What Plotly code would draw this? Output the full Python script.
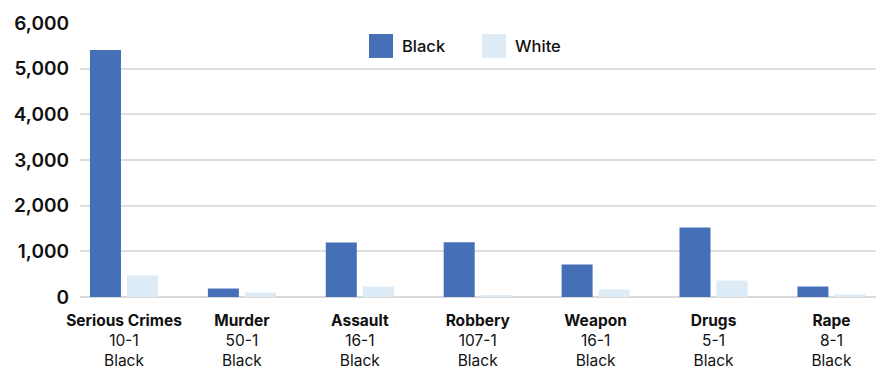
import plotly.graph_objects as go

# Arrests by offense, per 100,000 people, with Black-to-White ratio
offenses = ["Serious Crimes", "Murder", "Assault", "Robbery", "Weapon", "Drugs", "Rape"]
ratios = ["10-1", "50-1", "16-1", "107-1", "16-1", "5-1", "8-1"]
black_rates = [5410, 186, 1195, 1200, 710, 1520, 230]
white_rates = [470, 98, 230, 40, 165, 360, 55]

y_ticks = [0, 1000, 2000, 3000, 4000, 5000, 6000]

BLUE = "#4570B8"
PALE = "#DDEBF6"
FONT = "Inter"

x_labels = [f"<b>{o}</b><br>{r}<br>Black" for o, r in zip(offenses, ratios)]

fig = go.Figure()
fig.add_trace(go.Bar(x=x_labels, y=black_rates, name="Black",
                     marker=dict(color=BLUE, line=dict(width=0)), showlegend=False))
fig.add_trace(go.Bar(x=x_labels, y=white_rates, name="White",
                     marker=dict(color=PALE, line=dict(width=0)), showlegend=False))

# Legend drawn as large square swatches with labels
legend_items = [("Black", BLUE, 369), ("White", PALE, 482)]
for label, color, x0 in legend_items:
    fig.add_shape(type="rect", xref="paper", yref="paper",
                  x0=(x0 - 80) / 796, x1=(x0 + 24 - 80) / 796,
                  y0=(297.5 - 58) / 274.5, y1=(297.5 - 34) / 274.5,
                  fillcolor=color, line=dict(width=0), layer="above")
    fig.add_annotation(xref="paper", yref="paper",
                       x=(x0 + 31 - 80) / 796, y=(297.5 - 46) / 274.5,
                       text=label, showarrow=False, xanchor="left", yanchor="middle",
                       font=dict(family=FONT, size=16.5, color="#111111", weight=500))

fig.update_layout(
    width=880, height=371,
    margin=dict(l=80, r=4, t=23, b=73.5),
    paper_bgcolor="white", plot_bgcolor="white",
    barmode="group", bargap=0.372, bargroupgap=0.162,
    font=dict(family=FONT, color="#111111"),
)
fig.update_xaxes(
    type="category", range=[-0.373, 6.378], automargin=False,
    showgrid=False, showline=False, ticks="",
    ticklabelstandoff=12,
    tickfont=dict(family=FONT, size=15.5, color="#111111"),
)
fig.update_yaxes(
    range=[0, 6000], tickvals=y_ticks, tickformat=",d", automargin=False,
    showgrid=True, gridcolor="#dedede", gridwidth=2,
    zeroline=True, zerolinecolor="#d9d9d9", zerolinewidth=2,
    showline=False, ticks="", ticklabelstandoff=10,
    tickfont=dict(family=FONT, size=19, color="#111111", weight=600),
)

fig.write_html("out.html")
